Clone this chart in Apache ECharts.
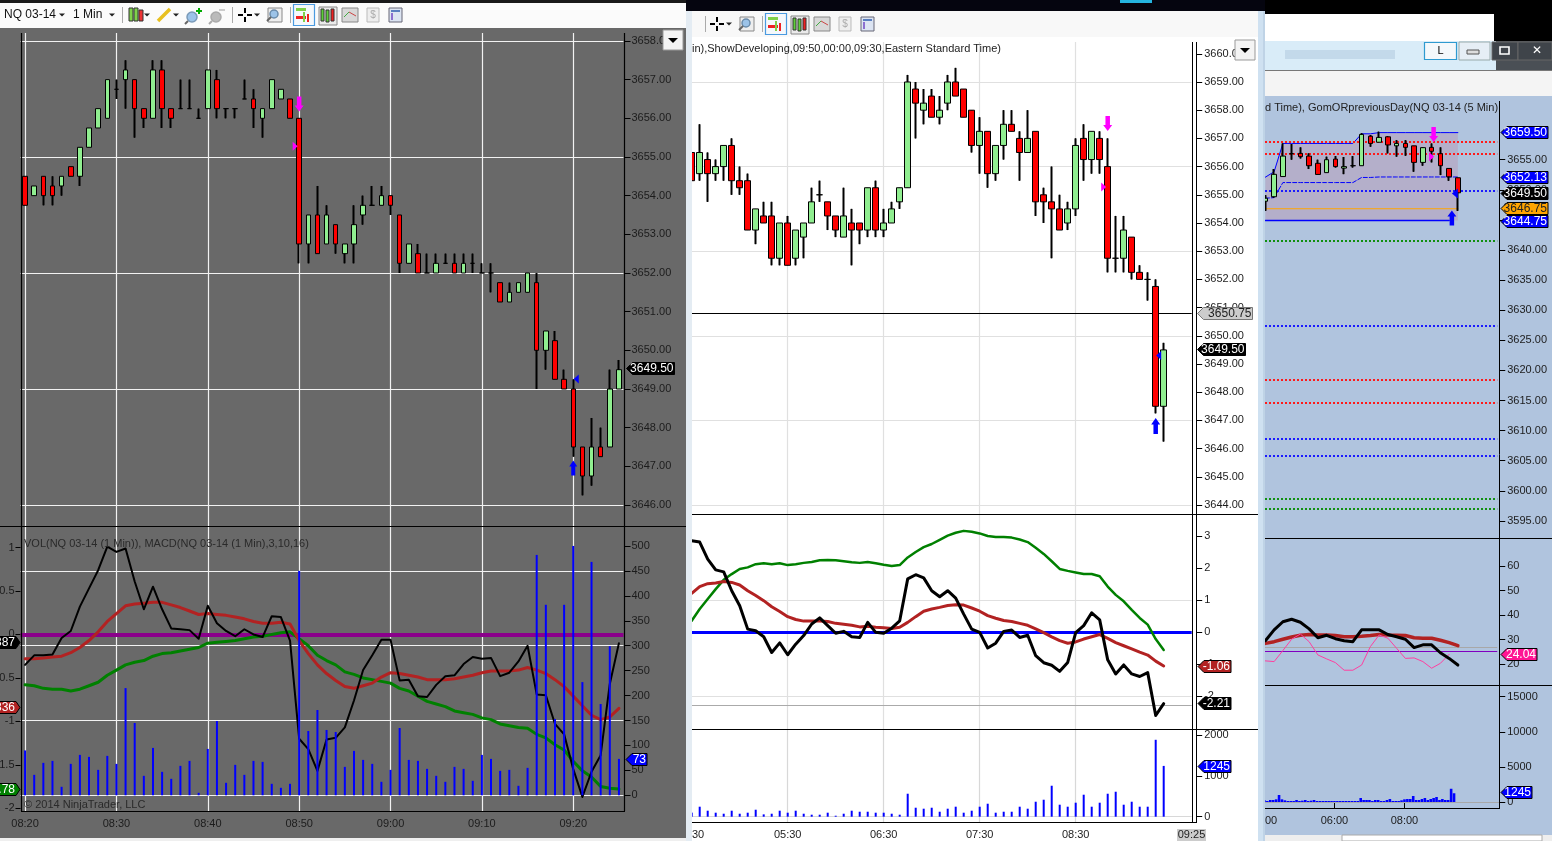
<!DOCTYPE html>
<html><head><meta charset="utf-8">
<style>html,body{margin:0;padding:0;background:#fff;overflow:hidden}#c{width:1552px;height:841px}</style>
<script src="https://cdn.jsdelivr.net/npm/echarts@6/dist/echarts.min.js"></script>
</head><body><div id="c"></div>
<script>
// ---------- left pane, 1 minute ----------
const p1Times = ['08:20','08:21','08:22','08:23','08:24','08:25','08:26','08:27','08:28','08:29','08:30','08:31','08:32','08:33','08:34','08:35','08:36','08:37','08:38','08:39','08:40','08:41','08:42','08:43','08:44','08:45','08:46','08:47','08:48','08:49','08:50','08:51','08:52','08:53','08:54','08:55','08:56','08:57','08:58','08:59','09:00','09:01','09:02','09:03','09:04','09:05','09:06','09:07','09:08','09:09','09:10','09:11','09:12','09:13','09:14','09:15','09:16','09:17','09:18','09:19','09:20','09:21','09:22','09:23','09:24','09:25'];
const p1Open = [3654.5,3654,3654.5,3654.25,3654.25,3654.75,3654.5,3655.25,3655.75,3656,
3656.75,3657,3657,3656.25,3656,3657.25,3656.25,3656.25,3656.25,3656,
3656.25,3657,3656.25,3656.25,3656.5,3656.5,3656,3656.25,3656.5,3656.5,
3656,3652.75,3653.5,3652.75,3653.25,3652.5,3652.75,3653.5,3653.75,3653.75,
3654,3653.5,3652.25,3652.5,3652,3652,3652.25,3652.25,3652,3652.25,
3652,3652,3651.75,3651.25,3651.5,3651.5,3651.75,3650,3650.25,3649.25,
3649,3647.5,3646.75,3647.5,3647.5,3649];
const p1Close = [3653.75,3654.25,3654,3654,3654.5,3654.5,3655.25,3655.75,3656.25,3657,
3656.75,3657.25,3656.25,3656,3657.25,3656.25,3656,3656.25,3656.25,3656,
3657.25,3656.25,3656.25,3656.25,3656.5,3656.25,3656.25,3657,3656.75,3656,
3652.75,3653.5,3652.5,3653.5,3652.75,3652.75,3653.25,3653.75,3653.75,3654,
3653.75,3652.25,3652.75,3652,3652,3652.25,3652.25,3652,3652.25,3652.25,
3652,3652,3651.25,3651.5,3651.75,3652,3650,3650.5,3649.25,3649,
3647.5,3646.75,3647.5,3647.25,3649,3649.5];
const p1Low = [3653.75,3654,3653.75,3653.75,3654,3654.5,3654.25,3655.25,3655.75,3656,
3656.5,3656.25,3655.5,3655.75,3656,3655.75,3655.75,3656.25,3656.25,3656,
3656.25,3656,3656,3656,3656.5,3655.75,3655.5,3656.25,3656.5,3656,
3652.25,3652.25,3652.5,3652.75,3652.5,3652.25,3652.25,3653.25,3653.75,3653.75,
3653.5,3652,3652.25,3652,3652,3652,3652.25,3652,3652,3652,
3652,3651.5,3651.25,3651.25,3651.5,3651.5,3649,3649.5,3649.25,3649,
3647.25,3646.25,3646.5,3647.25,3647.5,3649];
const p1High = [3654.5,3654.25,3654.5,3654.5,3654.5,3654.75,3655.25,3655.75,3656.25,3657,
3657,3657.5,3657,3656.25,3657.5,3657.5,3656.25,3657,3657,3656.25,
3657.25,3657.25,3656.25,3656.25,3657,3656.75,3656.25,3657,3656.75,3656.5,
3656,3653.5,3654.25,3653.75,3653.25,3652.75,3653.75,3654,3654.25,3654.25,
3654,3653.5,3652.75,3652.75,3652.5,3652.5,3652.5,3652.5,3652.5,3652.5,
3652.25,3652.25,3651.75,3651.75,3651.75,3652,3652,3650.5,3650.5,3649.5,
3649.25,3647.5,3648.25,3648,3649.5,3649.75];
const p1Macd = [-.35,-.24,-.24,-.23,-.04,.04,.32,.53,.74,1.01,.95,.99,.61,.29,.55,.29,.07,.06,.05,-.05,.33,.13,.04,-.02,.06,0,-.03,.21,.2,-.07,-1.2,-1.32,-1.57,-1.21,-1.19,-1.07,-.76,-.41,-.24,-.06,-.06,-.53,-.52,-.71,-.72,-.58,-.48,-.47,-.34,-.26,-.28,-.27,-.48,-.44,-.31,-.13,-.69,-.7,-1.03,-1.15,-1.55,-1.87,-1.58,-1.39,-.57,-.1];
const p1Avg = [-.28,-.28,-.27,-.26,-.25,-.21,-.15,-.07,.03,.15,.24,.33,.35,.36,.37,.37,.34,.31,.27,.23,.24,.23,.22,.2,.18,.15,.13,.13,.14,.12,-.07,-.22,-.35,-.45,-.53,-.6,-.62,-.59,-.56,-.49,-.44,-.45,-.47,-.49,-.52,-.52,-.52,-.51,-.49,-.47,-.44,-.42,-.42,-.42,-.41,-.38,-.41,-.45,-.52,-.6,-.71,-.82,-.93,-.98,-.95,-.85];
const p1Diff = [-.58,-.59,-.62,-.63,-.63,-.65,-.63,-.59,-.55,-.47,-.41,-.35,-.32,-.3,-.25,-.22,-.21,-.19,-.17,-.15,-.1,-.09,-.08,-.07,-.05,-.03,-.02,0,.02,.03,-.05,-.13,-.24,-.3,-.35,-.43,-.46,-.5,-.52,-.54,-.56,-.62,-.65,-.71,-.77,-.8,-.83,-.88,-.9,-.92,-.96,-.98,-1.03,-1.05,-1.07,-1.08,-1.15,-1.19,-1.27,-1.33,-1.46,-1.57,-1.64,-1.75,-1.77,-1.78];
const p1Vol = [90,41,65,69,17,63,81,77,51,79,63,215,145,39,95,47,33,59,69,5,93,149,25,61,41,69,67,23,15,23,450,129,171,131,127,57,89,71,63,27,51,135,71,69,53,39,27,57,53,29,81,73,49,51,19,55,482,382,153,382,500,227,468,183,299,73];
const p1PriceTicks = [3646,3647,3648,3649,3650,3651,3652,3653,3654,3655,3656,3657,3658];
const p1PriceGrid = [3646,3649,3652,3655,3658];
const p1MacdTicks = [-2,-1.5,-1,-0.5,0,0.5,1];
const p1VolTicks = [0,50,100,150,200,250,300,350,400,450,500];
const p1VolGrid = [0,150,300,450];
const p1TimeGrid = ['08:20','08:30','08:40','08:50','09:00','09:10','09:20'];

// ---------- middle pane, 5 minute ----------
const p2Times = ['04:30','04:35','04:40','04:45','04:50','04:55','05:00','05:05','05:10','05:15','05:20','05:25','05:30','05:35','05:40','05:45','05:50','05:55','06:00','06:05','06:10','06:15','06:20','06:25','06:30','06:35','06:40','06:45','06:50','06:55','07:00','07:05','07:10','07:15','07:20','07:25','07:30','07:35','07:40','07:45','07:50','07:55','08:00','08:05','08:10','08:15','08:20','08:25','08:30','08:35','08:40','08:45','08:50','08:55','09:00','09:05','09:10','09:15','09:20','09:25','09:30','09:35','09:40'];
const p2Open = [3656.5,3655.75,3656.25,3655.75,3656,3656.75,3655.5,3655.5,3653.75,3654.25,
3654.25,3652.75,3654,3652.75,3653.5,3654,3655,3654.75,3654.25,3653.5,
3654,3654,3653.75,3655.25,3653.75,3654,3654.75,3655.25,3658.75,3658,
3658.5,3657.75,3658.25,3659,3658.75,3658,3656.75,3657.25,3655.75,3656.75,
3657.5,3657,3656.5,3657.25,3655,3654.75,3654.5,3654,3654.5,3657,
3656.25,3657,3656,3652.75,3652.75,3653.5,3652.25,3652,3651.75,3647.5];
const p2Close = [3655.5,3656.5,3655.75,3656,3656.75,3655.5,3655.25,3653.75,3654.5,3654,
3652.75,3654,3652.5,3653.75,3654,3654.75,3655,3654.25,3653.75,3654.25,
3653.75,3653.75,3655.25,3653.75,3654,3654.5,3655.25,3659,3658.25,3658.25,
3657.75,3658,3659,3658.5,3657.75,3656.75,3657.25,3655.75,3656.75,3657.5,
3657.25,3656.5,3657,3654.75,3654.75,3654.5,3653.75,3654.5,3656.75,3656.25,
3657.25,3656.25,3652.75,3652.75,3653.75,3652.25,3652,3652,3647.5,3649.5];
const p2Low = [3655.5,3655.5,3654.75,3655.5,3655.5,3655,3655,3653.75,3653.25,3654,
3652.5,3652.5,3652.5,3652.5,3652.75,3654,3654.75,3653.75,3653.5,3653.5,
3652.5,3653.25,3653.5,3653.5,3653.5,3654,3654.5,3655.25,3657,3657.5,
3657.75,3657.5,3658,3658.5,3657.75,3656.5,3655.75,3655.25,3655.5,3656.25,
3657.25,3655.5,3656.5,3654.25,3654,3652.75,3653.75,3653.75,3654.25,3655.5,
3655.75,3655.75,3652.25,3652.25,3652.25,3652,3652,3651.25,3647.25,3646.25];
const p2High = [3656.5,3657.5,3656.5,3656.25,3656.75,3657,3656,3655.75,3654.5,3654.75,
3654.75,3654,3654.25,3653.75,3654,3655.25,3655.5,3654.75,3654.25,3655.25,
3654.5,3654,3655.25,3655.5,3654.5,3654.75,3655.25,3659.25,3659,3658.75,
3658.75,3658.5,3659.25,3659.5,3658.75,3658,3657.75,3657.25,3656.75,3658,
3658,3657.25,3658,3657.25,3655.25,3656,3655,3654.75,3657,3657.5,
3657.25,3657.25,3657,3654.25,3654.25,3653.5,3652.5,3652.25,3652,3649.75];
const p2Macd = [2.85,2.81,2.28,1.94,1.88,1.29,.82,.09,.04,-.15,-.64,-.34,-.71,-.38,-.11,.25,.44,.2,-.04,.02,-.15,-.17,.3,-.01,-.04,.12,.35,1.66,1.79,1.69,1.29,1.1,1.29,1.06,.56,.09,-.01,-.5,-.35,.02,.06,-.17,-.1,-.74,-.96,-1.04,-1.23,-.95,-.02,.2,.6,.38,-.87,-1.31,-1.03,-1.31,-1.39,-1.27,-2.61,-2.24];
const p2Avg = [1.21,1.42,1.51,1.53,1.58,1.55,1.47,1.29,1.14,.98,.79,.64,.48,.39,.34,.34,.34,.33,.27,.24,.21,.16,.18,.15,.13,.11,.15,.3,.48,.65,.72,.77,.83,.85,.84,.75,.65,.51,.43,.36,.33,.27,.21,.1,-.02,-.15,-.27,-.35,-.31,-.22,-.15,-.08,-.2,-.33,-.43,-.53,-.63,-.72,-.91,-1.06];
const p2Diff = [.35,.72,1.03,1.34,1.63,1.81,1.97,2.02,2.12,2.15,2.12,2.15,2.09,2.12,2.16,2.19,2.24,2.25,2.24,2.21,2.18,2.16,2.19,2.15,2.1,2.06,2.09,2.33,2.5,2.65,2.75,2.88,3.01,3.1,3.16,3.13,3.08,3,2.97,2.97,2.95,2.89,2.81,2.63,2.44,2.21,1.97,1.91,1.86,1.81,1.81,1.74,1.42,1.16,.96,.69,.44,.23,-.22,-.56];
const p2Vol = [100,245,147,98,73,147,73,98,171,57,73,147,98,147,73,49,49,98,24,73,147,122,122,98,98,73,49,563,220,196,220,122,196,245,98,147,245,318,98,122,122,245,196,367,416,759,294,245,343,539,245,343,563,612,294,367,245,245,1885,1245];
const p2PriceTicks = [3644,3645,3646,3647,3648,3649,3650,3651,3652,3653,3654,3655,3656,3657,3658,3659,3660];
const p2PriceGrid = [3644,3647,3650,3653,3656,3659];
const p2MacdTicks = [-2,-1,0,1,2,3];
const p2MacdGrid = [-2,1];
const p2VolTicks = [0,1000,2000];
const p2TimeGrid = ['05:30','06:30','07:30','08:30'];
const p2TimeLabels = ['05:30','06:30','07:30','08:30'];

// ---------- right pane ----------
const p3Times = ['04:00','04:15','04:30','04:45','05:00','05:15','05:30','05:45','06:00','06:15','06:30','06:45','07:00','07:15','07:30','07:45','08:00','08:15','08:30','08:45','09:00','09:15','09:30','09:45','10:00','10:15','10:30'];
const p3Open  = [3648.1,3648.85,3652.2,3656,3656.05,3655.6,3654.4,3652.85,3655.1,3653.6,3654,3654,3658.9,3657.9,3658.8,3657.3,3657.7,3657.3,3654.55,3657.05,3656,3653.55,3652];
const p3Close = [3648.6,3652.57,3655.6,3656,3655.5,3654,3652.55,3655,3653.85,3653.85,3654,3659.2,3657.7,3658.7,3657.45,3657.7,3657.05,3654.55,3657,3656.4,3654,3652.15,3649.5];
const p3Low   = [3646.5,3648.7,3652.2,3655,3655.2,3653.45,3652.55,3652.85,3653.7,3652.6,3653.7,3654,3657.15,3657.9,3656.05,3655.5,3655.65,3653,3654,3654.55,3652.45,3651.5,3646.5];
const p3High  = [3649.1,3653.45,3657.7,3657.6,3657.05,3656.05,3655,3655.5,3655.6,3655.45,3655.6,3659.4,3659.1,3659.65,3658.9,3658.25,3658.25,3657.3,3657.05,3657.7,3657.05,3653.55,3652];
const p3RangeHigh = [3652.1,3653,3657.7,3657.7,3657.7,3657.7,3657.7,3657.7,3657.7,3657.7,3657.7,3659.3,3659.3,3659.5,3659.5,3659.5,3659.5,3659.5,3659.5,3659.5,3659.5,3659.5,3659.5];
const p3RangeMid = [3648.6,3648.7,3651.2,3651.2,3651.2,3651.2,3651.2,3651.2,3651.2,3651.2,3651.2,3652.05,3652.05,3652.13,3652.13,3652.13,3652.13,3652.13,3652.13,3652.13,3652.13,3652.13,3652.13];
const p3RangeLow = [3644.9,3644.9,3644.9,3644.9,3644.9,3644.9,3644.9,3644.9,3644.9,3644.9,3644.9,3644.9,3644.9,3644.9,3644.9,3644.9,3644.9,3644.9,3644.9,3644.9,3644.9,3644.9];
const p3Settle = [3646.85,3646.85,3646.85,3646.85,3646.85,3646.85,3646.85,3646.85,3646.85,3646.85,3646.85,3646.85,3646.85,3646.85,3646.85,3646.85,3646.85,3646.85,3646.85,3646.85,3646.85,3646.85,3646.85];
const p3RedLevels = [3657.9,3656,3618.4,3614.7];
const p3BlueLevels = [3649.8,3627.4,3608.6,3605.8];
const p3GreenLevels = [3641.6,3598.6,3597];
const p3Rsi = [29.6,34,37.3,38.3,37.1,34.4,30.8,31.8,30.4,29.6,29.2,34,34,34,32.1,31.2,30.2,26.8,27.9,27.9,24.7,22.4,19.7];
const p3RsiAvg = [28.5,29.2,30.2,31.1,31.8,32.1,31.9,31.9,31.7,31.2,31.2,31.4,31.7,32.1,31.9,31.8,31.7,30.8,30.6,30.6,29.8,28.8,27.6];
const p3Stoch = [21.4,21.1,25.6,30.2,32.3,29.2,23.8,22.2,20.7,17.6,17.6,19.7,27.2,31.9,30.6,26.5,22.4,22.6,21.1,18.4,20.4,24.04];
const p3VolTimes = ['04:00','04:05','04:10','04:15','04:20','04:25','04:30','04:35','04:40','04:45','04:50','04:55','05:00','05:05','05:10','05:15','05:20','05:25','05:30','05:35','05:40','05:45','05:50','05:55','06:00','06:05','06:10','06:15','06:20','06:25','06:30','06:35','06:40','06:45','06:50','06:55','07:00','07:05','07:10','07:15','07:20','07:25','07:30','07:35','07:40','07:45','07:50','07:55','08:00','08:05','08:10','08:15','08:20','08:25','08:30','08:35','08:40','08:45','08:50','08:55','09:00','09:05','09:10','09:15','09:20','09:25','09:30','09:35','09:40','09:45','09:50','09:55','10:00','10:05','10:10','10:15','10:20','10:25','10:30','10:35','10:40'];
const p3Vol = [238,143,286,286,381,1000,381,238,143,143,143,286,143,190,286,143,190,286,143,143,143,143,143,143,143,143,143,143,143,143,143,143,143,571,286,286,286,143,286,286,143,143,286,429,143,143,143,238,381,429,429,857,286,286,429,571,286,429,571,714,286,429,286,286,1885,1245];
const p3PriceTicks = [3595,3600,3605,3610,3615,3620,3625,3630,3635,3640,3645,3650,3655];
const p3RsiTicks = [20,30,40,50,60];
const p3VolTicks = [0,5000,10000,15000];
const p3TimeLabels = ['06:00','08:00'];
const p3TimeTicks = ['04:00','06:00','08:00'];

// ---------- markers and price tags ----------
const FONT = '"Liberation Sans", Arial, sans-serif';
const ARROW_DOWN = 'path://M2.5,0 L7.5,0 L7.5,9 L10,9 L5,15 L0,9 L2.5,9 Z';
const ARROW_UP = 'path://M5,0 L10,6 L7.5,6 L7.5,15 L2.5,15 L2.5,6 L0,6 Z';
const TRI_RIGHT = 'path://M0,0 L6,5 L0,10 Z';
const TRI_LEFT = 'path://M6,0 L0,5 L6,10 Z';

const markers = [
 {x:0,y:0,t:'08:50',v:3656.37,s:ARROW_DOWN,c:'#FF00FF',size:[9,15],off:[0,0]},
 {x:0,y:0,t:'08:50',v:3655.28,s:TRI_RIGHT,c:'#FF00FF',size:[5,9],off:[-4,0]},
 {x:0,y:0,t:'09:20',v:3649.26,s:TRI_LEFT,c:'#0000FF',size:[5,9],off:[3,0]},
 {x:0,y:0,t:'09:20',v:3646.96,s:ARROW_UP,c:'#0000FF',size:[8,15],off:[0,0]},
 {x:2,y:3,t:'08:50',v:3657.53,s:ARROW_DOWN,c:'#FF00FF',size:[9,15],off:[0,0]},
 {x:2,y:3,t:'08:50',v:3655.28,s:TRI_RIGHT,c:'#FF00FF',size:[5,9],off:[-4,0]},
 {x:2,y:3,t:'09:20',v:3649.3,s:TRI_LEFT,c:'#0000FF',size:[5,9],off:[3,0]},
 {x:2,y:3,t:'09:20',v:3646.8,s:ARROW_UP,c:'#0000FF',size:[9,16],off:[0,0]},
 {x:5,y:6,t:'08:45',v:3659.2,s:ARROW_DOWN,c:'#FF00FF',size:[9,15],off:[2,0]},
 {x:5,y:6,t:'08:45',v:3655.5,s:TRI_RIGHT,c:'#FF00FF',size:[5,9],off:[0,0]},
 {x:5,y:6,t:'09:30',v:3649.4,s:TRI_LEFT,c:'#0000FF',size:[6,10],off:[-3,0]},
 {x:5,y:6,t:'09:30',v:3645.3,s:ARROW_UP,c:'#0000FF',size:[9,15],off:[-6,0]},
];
const tagList = [
 {x:0,y:0,v:3649.5,text:'3649.50',px:626.5,w:48,fill:'#000',color:'#fff',dir:'L',dy:-2},
 {x:1,y:2,v:73,text:'73',px:626,w:21,fill:'#0000FF',color:'#fff',dir:'L',dy:0},
 {x:1,y:1,v:-0.09,text:'-0.387',px:20,w:60,fill:'#000',color:'#fff',dir:'R',dy:0},
 {x:1,y:1,v:-0.836,text:'-0.836',px:20,w:60,fill:'#B22222',color:'#fff',dir:'R',dy:0},
 {x:1,y:1,v:-1.78,text:'-1.78',px:20,w:60,fill:'#008000',color:'#fff',dir:'R',dy:0},
 {x:2,y:3,v:3650.8,text:'3650.75',px:1197.5,w:55,fill:'#CCCCCC',color:'#222',dir:'L',stroke:'#777',dy:0},
 {x:2,y:3,v:3649.5,text:'3649.50',px:1197.5,w:48,fill:'#000',color:'#fff',dir:'L',dy:-1},
 {x:3,y:4,v:-1.06,text:'-1.06',px:1198,w:33,fill:'#B22222',color:'#fff',dir:'L',dy:0},
 {x:3,y:4,v:-2.21,text:'-2.21',px:1198,w:33,fill:'#000',color:'#fff',dir:'L',dy:0},
 {x:4,y:5,v:1245,text:'1245',px:1198,w:33,fill:'#0000FF',color:'#fff',dir:'L',dy:0},
 {x:5,y:6,v:3659.5,text:'3659.50',px:1501,w:47,fill:'#0000FF',color:'#fff',dir:'L',dy:-1},
 {x:5,y:6,v:3652.13,text:'3652.13',px:1501,w:47,fill:'#0000FF',color:'#fff',dir:'L',dy:0},
 {x:5,y:6,v:3649.5,text:'3649.50',px:1501,w:47,fill:'#000',color:'#fff',dir:'L',dy:0},
 {x:5,y:6,v:3646.75,text:'3646.75',px:1501,w:47,fill:'#FFA500',color:'#222',dir:'L',dy:-1},
 {x:5,y:6,v:3644.75,text:'3644.75',px:1501,w:47,fill:'#0000FF',color:'#fff',dir:'L',dy:0},
 {x:6,y:7,v:24.04,text:'24.04',px:1501,w:36,fill:'#FF1493',color:'#fff',dir:'L',dy:0},
 {x:7,y:8,v:1245,text:'1245',px:1501,w:31,fill:'#0000FF',color:'#fff',dir:'L',dy:-1},
];

// ---------- chart layout ----------
const grids = [
 {left:20.5,top:33,width:603,height:493},
 {left:20.5,top:527,width:603,height:284},
 {left:687.7,top:42,width:504,height:472},
 {left:687.7,top:515,width:504,height:214},
 {left:687.7,top:730,width:504,height:92},
 {left:1261,top:101,width:236.25,height:437},
 {left:1261,top:539,width:236.25,height:146},
 {left:1263,top:686,width:236.25,height:122},
].map(r=>Object.assign(r,{containLabel:false,outerBoundsMode:'none'}));
const LBL = '#1c1c1c';
function xAx(gi,data,labelFn,tick,tickFn){
 const a={type:'category',gridIndex:gi,data,boundaryGap:true,axisLine:{show:false},splitLine:{show:false},
  axisTick:{show:false},axisLabel:{show:false}};
 if(labelFn){a.axisLabel={show:true,interval:labelFn,margin:7,fontFamily:FONT,fontSize:11,color:LBL,hideOverlap:false};
  if(tick)a.axisTick={show:true,alignWithLabel:true,interval:tickFn||labelFn,length:tick,lineStyle:{color:'#000'}};}
 return a;
}
function yAx(gi,pos,min,max,ticks,fmt,offset,tlen,margin){
 return {type:'value',gridIndex:gi,position:pos,min,max,scale:true,offset:offset||0,splitLine:{show:false},axisLine:{show:false},
  axisTick:{show:true,length:tlen||6,customValues:ticks,lineStyle:{color:'#000'}},
  axisLabel:{show:true,customValues:ticks,formatter:fmt,margin:margin||8,padding:[2,0,0,0],fontFamily:FONT,fontSize:11,color:LBL,hideOverlap:false,showMinLabel:true,showMaxLabel:true}};
}
const f2=v=>(+v).toFixed(2), fs=v=>String(v);
const xAxis=[
 xAx(0,p1Times),
 xAx(1,p1Times,i=>i%10===0),
 xAx(2,p2Times),
 xAx(3,p2Times),
 xAx(4,p2Times,(i,v)=>p2TimeLabels.indexOf(v)>=0,4),
 xAx(5,p3Times),
 xAx(6,p3Times),
 xAx(7,p3VolTimes,(i,v)=>p3TimeLabels.indexOf(v)>=0,7,(i,v)=>p3TimeTicks.indexOf(v)>=0),
];
const yAxis=[
 yAx(0,'right',3645.457,3658.206,p1PriceTicks,f2,1,6,7),
 yAx(1,'left',-2.032,1.237,p1MacdTicks,fs,0,5,6),
 yAx(1,'right',-31.5,538,p1VolTicks,fs,1,6,7),
 yAx(2,'right',3643.681,3660.418,p2PriceTicks,f2,4.5),
 yAx(3,'right',-3.031,3.656,p2MacdTicks,fs,4.5),
 yAx(4,'right',-130,2125,p2VolTicks,fs,4.5),
 yAx(5,'right',3592.16,3664.75,p3PriceTicks,f2,2),
 yAx(6,'right',11.59,70.93,p3RsiTicks,fs,2),
 yAx(7,'right',-855,16524,p3VolTicks,fs,0),
];

function candle(x,y,o,c,l,h,width,z){return {type:'candlestick',xAxisIndex:x,yAxisIndex:y,z:z||4,barWidth:width,
 itemStyle:{color:'#90EE90',color0:'#FF0000',borderColor:'#000',borderColor0:'#000',borderColorDoji:'#000',borderWidth:1},
 data:o.map((v,i)=>[v,c[i],l[i],h[i]])};}
function wicks(x,y,o,c,l,h){return {type:'candlestick',xAxisIndex:x,yAxisIndex:y,z:3,barWidth:1,
 itemStyle:{color:'#000',color0:'#000',borderColor:'#000',borderColor0:'#000',borderColorDoji:'#000',borderWidth:2},
 data:o.map((v,i)=>[v,c[i],l[i],h[i]])};}
function ln(x,y,data,color,width,z,type){return {type:'line',xAxisIndex:x,yAxisIndex:y,data,symbol:'none',smooth:false,z:z||5,
 lineStyle:{color,width,type:type||'solid',cap:'round',join:'round'}};}
function vol(x,y,data,width,z){return {type:'bar',xAxisIndex:x,yAxisIndex:y,data,barWidth:width,z:z||6,itemStyle:{color:'#0000FF'}};}
function rules(x,y,yLines,xLines,color,width,extra,z){
 const d=[];
 (yLines||[]).forEach(v=>d.push({yAxis:v,lineStyle:{color,width,type:'solid'}}));
 (xLines||[]).forEach(v=>d.push({xAxis:v,lineStyle:{color,width,type:'solid'}}));
 (extra||[]).forEach(e=>d.push(e));
 return {type:'line',xAxisIndex:x,yAxisIndex:y,data:[],symbol:'none',z:1,
  markLine:{silent:true,symbol:'none',label:{show:false},animation:false,z:z||1,precision:4,data:d}};
}

const series=[
 rules(0,0,p1PriceGrid,p1TimeGrid,'#F2F2F2',1.2),
 rules(1,2,p1VolGrid,p1TimeGrid,'#F2F2F2',1.2),
 rules(1,1,[],[],'#8B008B',4,[{yAxis:0,lineStyle:{color:'#8B008B',width:4,type:'solid'}}],2),
 wicks(0,0,p1Open,p1Close,p1Low,p1High),
 candle(0,0,p1Open,p1Close,p1Low,p1High,5),
 vol(1,2,p1Vol,2,6),
 ln(1,1,p1Diff,'#008000',3,4),
 ln(1,1,p1Avg,'#B22222',3,4),
 ln(1,1,p1Macd,'#000',2,5),

 rules(2,3,p2PriceGrid,p2TimeGrid,'#E0E0E0',1.2,[{yAxis:3650.81,lineStyle:{color:'#000',width:1,type:'solid'}}]),
 rules(3,4,p2MacdGrid,p2TimeGrid,'#E0E0E0',1.2,[{yAxis:-2.28,lineStyle:{color:'#AAAAAA',width:1,type:'solid'}},{yAxis:0,lineStyle:{color:'#0000FF',width:3,type:'solid'}}]),
 rules(4,5,[0],p2TimeGrid,'#D8D8D8',1.2),
 wicks(2,3,p2Open,p2Close,p2Low,p2High),
 candle(2,3,p2Open,p2Close,p2Low,p2High,7),
 ln(3,4,p2Diff,'#008000',2.5,4),
 ln(3,4,p2Avg,'#B22222',3,4),
 ln(3,4,p2Macd,'#000',3,5),
 vol(4,5,p2Vol,2,6),

 Object.assign(ln(5,6,p3RangeHigh,'#0000FF',1,2),{areaStyle:{color:'#B4AFCA',opacity:1,origin:3644.9}}),
 ln(5,6,p3RangeMid,'#0000FF',1,3,'dashed'),
 ln(5,6,p3RangeLow,'#0000FF',1.5,3),
 ln(5,6,p3Settle,'#FFA500',1.2,3),
 rules(5,6,[],[],'#000',1,[
   ...p3RedLevels.map(v=>({yAxis:v,lineStyle:{color:'#FF1A1A',width:2,type:[2,2]}})),
   ...p3BlueLevels.map(v=>({yAxis:v,lineStyle:{color:'#1A1AFF',width:2,type:[2,2]}})),
   ...p3GreenLevels.map(v=>({yAxis:v,lineStyle:{color:'#109010',width:2,type:[2,2]}})),
 ],3),
 wicks(5,6,p3Open,p3Close,p3Low,p3High),
 candle(5,6,p3Open,p3Close,p3Low,p3High,5),
 rules(6,7,[],[],'#000',1,[{yAxis:26.9,lineStyle:{color:'#A8A8A8',width:1,type:'solid'}},{yAxis:25.3,lineStyle:{color:'#8000C0',width:1,type:'solid'}}]),
 ln(6,7,p3RsiAvg,'#B22222',3.5,4),
 ln(6,7,p3Stoch,'#FF3FA0',1,4),
 ln(6,7,p3Rsi,'#000',3,5),
 rules(7,8,[0],[],'#A8A8A8',1),
 vol(7,8,p3Vol,2.6,6),
];
markers.forEach(m=>{
 series.push({type:'scatter',xAxisIndex:m.x,yAxisIndex:m.y,z:9,symbol:m.s,symbolSize:m.size,symbolOffset:m.off,symbolKeepAspect:false,
  itemStyle:{color:m.c,opacity:1},data:[[m.t,m.v]]});
});
tagList.forEach(t=>{
 series.push({type:'custom',xAxisIndex:t.x,yAxisIndex:t.y,z:20,clip:false,silent:true,data:[[0,t.v]],
  renderItem:(p,api)=>{
   const y=Math.round(api.coord([0,api.value(1)])[1])+0.5+(t.dy||0), h=6, x=t.px, w=t.w;
   const pts=t.dir==='L'?[[x,y],[x+6,y-h],[x+w,y-h],[x+w,y+h],[x+6,y+h]]:[[x,y],[x-4,y-h],[x-w,y-h],[x-w,y+h],[x-4,y+h]];
   return {type:'group',children:[
    {type:'polygon',shape:{points:pts},style:{fill:t.fill,stroke:t.stroke||'#000',lineWidth:1}},
    {type:'text',style:{text:t.text,x:t.dir==='L'?x+w-1:x-5,y:y+0.5,fill:t.color,font:'12px '+FONT,align:'right',verticalAlign:'middle'}}
   ]};
  }});
});

// ---------- window frames and toolbars (screenshot chrome) ----------
const g=[];
const R=(x,y,w,h,fill,z,stroke,lw)=>g.push({type:'rect',silent:true,z:z,shape:{x,y,width:w,height:h},style:{fill,stroke:stroke||null,lineWidth:lw||1}});
const L=(x1,y1,x2,y2,c,w,z)=>g.push({type:'line',silent:true,z:z,shape:{x1,y1,x2,y2},style:{stroke:c,lineWidth:w||1}});
const T=(x,y,s,font,fill,z,align)=>g.push({type:'text',silent:true,z:z,style:{text:s,x,y,font,fill,align:align||'left',verticalAlign:'middle'}});
const P=(pts,fill,z)=>g.push({type:'polygon',silent:true,z:z,shape:{points:pts},style:{fill}});
const C=(cx,cy,r,fill,stroke,z)=>g.push({type:'circle',silent:true,z:z,shape:{cx,cy,r},style:{fill,stroke:stroke||null,lineWidth:1.5}});
const BG=-50, TOP=60;

R(0,0,686,3,'#1a1a1a',BG); R(0,3,686,25,'#FBFBFB',BG); R(0,28,686,810,'#696969',BG); R(0,838,686,3,'#EFEFEF',BG);
R(692,0,566,11,'#05050F',BG); R(692,11,566,26,'#F8F8F8',BG); R(692,37,566,804,'#FFFFFF',BG);
R(1265,0,287,14,'#000',BG); R(1265,14,229,27,'#FFFFFF',BG); R(1494,14,58,27,'#000',BG);
R(1265,41,287,29,'#D9ECF8',BG); R(1496,41,56,29,'#4A4F55',BG); R(1265,70,287,1,'#777',BG); R(1265,71,287,25,'#F4F4F4',BG);
R(1265,96,287,739,'#B0C4DE',BG); R(1265,835,287,6,'#EEEEEE',BG); R(1342,835,200,6,'#FFFFFF',BG,'#AAAAAA');
R(1120,0,32,3,'#25B5E0',BG);
R(1285,50,110,9,'#C3D9EA',BG);

R(686,0,6,841,'#E4ECF3',TOP); R(686,0,6,11,'#05050F',TOP);
R(1258,0,7,841,'#CFE1F1',TOP); R(1263,0,2,841,'#BFD3E6',TOP); R(1258,0,7,11,'#05050F',TOP);

L(0,526.5,686,526.5,'#000',1,TOP);
L(21.5,33,21.5,811,'#000',1.2,TOP); L(624.5,33,624.5,811,'#000',1.2,TOP); L(21,811.5,625,811.5,'#000',1,TOP);
L(692,514.5,1258,514.5,'#000',1,TOP); L(692,729.5,1258,729.5,'#000',1,TOP);
L(1192.5,42,1192.5,822,'#000',1,TOP); L(1196.5,42,1196.5,822,'#000',1,TOP); L(692,822.5,1197,822.5,'#000',1,TOP);
L(1265,538.5,1552,538.5,'#000',1,TOP); L(1265,685.5,1552,685.5,'#000',1,TOP);
L(1499.5,101,1499.5,808,'#000',1,TOP); L(1265,808.5,1500,808.5,'#000',1,TOP);

T(24,544,'VOL(NQ 03-14 (1 Min)), MACD(NQ 03-14 (1 Min),3,10,16)','11px '+FONT,'#2A2A2A',TOP);
T(24,805,'© 2014 NinjaTrader, LLC','11px '+FONT,'#2A2A2A',TOP);
T(692,49,'in),ShowDeveloping,09:50,00:00,09:30,Eastern Standard Time)','11px '+FONT,'#222',TOP);
T(1265,108,'d Time), GomORpreviousDay(NQ 03-14 (5 Min)','11px '+FONT,'#222',TOP);
T(692,835,'30','11px '+FONT,LBL,TOP);
T(1265,821,'00','11px '+FONT,LBL,TOP);
R(1177,829,29,12,'#CCCCCC',TOP); T(1191.5,835,'09:25','11px '+FONT,'#222',TOP,'center');

function dropBtn(x,y){R(x,y,20,20,'#F4F4F4',TOP,'#999');P([[x+5,y+8],[x+15,y+8],[x+10,y+13]],'#000',TOP);}
dropBtn(663,30); dropBtn(1235,40);

const tri=(x,y)=>P([[x-3,y-1.5],[x+3,y-1.5],[x,y+1.5]],'#222',TOP);
function candleIcon(x,y,frame){
 if(frame)R(x-2,y-2,18,18,'#EAEAEA',TOP,'#888');
 R(x,y,3,12,'#5FCF3A',TOP,'#333');R(x+5,y+1,3,12,'#5FCF3A',TOP,'#333');R(x+10,y,3,12,'#E22',TOP,'#333');
}
function toolIcons(dx,dy){
 L(245+dx,8+dy,245+dx,13+dy,'#000',2,TOP);L(245+dx,17+dy,245+dx,22+dy,'#000',2,TOP);L(238+dx,15+dy,243+dx,15+dy,'#000',2,TOP);L(247+dx,15+dy,252+dx,15+dy,'#000',2,TOP);
 tri(257+dx,15+dy);
 R(268+dx,8+dy,14,14,'#EEE',TOP,'#888');C(274+dx,14+dy,4,'#9CC3E8','#6A8BAA',TOP);L(271+dx,17+dy,267+dx,21+dy,'#666',2,TOP);
 L(290.5+dx,7+dy,290.5+dx,23+dy,'#AAA',1,TOP);
 R(293.5+dx,4.5+dy,21,21,'#F4F8FC',TOP,'#4A9AE0',1.2);
 R(296+dx,8+dy,10,3,'#7FD14A',TOP);R(296+dx,16+dy,10,3,'#E22',TOP);R(307+dx,14+dy,2,8,'#E22',TOP);R(303+dx,12+dy,2,10,'#7FD14A',TOP);
 candleIcon(321+dx,9+dy,true);
 R(342+dx,8+dy,16,14,'#D8D8D8',TOP,'#888');L(344+dx,17+dy,349+dx,12+dy,'#4A4',1,TOP);L(349+dx,12+dy,356+dx,16+dy,'#C44',1,TOP);
 R(367+dx,8+dy,12,14,'#EEE',TOP,'#BBB');T(373+dx,15.5+dy,'$','10px '+FONT,'#AAA',TOP,'center');
 R(389+dx,8+dy,13,14,'#DCE4F2',TOP,'#667');R(391+dx,10+dy,9,2,'#5A7FC0',TOP);R(391+dx,13+dy,2,7,'#8B6FD0',TOP);
}
T(4,15,'NQ 03-14','12px '+FONT,'#111',TOP); tri(62,15);
T(73,15,'1 Min','12px '+FONT,'#111',TOP); tri(112,15);
L(122.5,7,122.5,23,'#AAA',1,TOP);
R(129,8,4,13,'#7FD14A',TOP,'#333');R(134,8,4,13,'#7FD14A',TOP,'#333');R(139,10,4,11,'#E33',TOP,'#333');tri(147,15);
L(158,21,170,9,'#E8C020',3.5,TOP);tri(176,15);
C(192,17,5,'#9CC3E8','#7A9AB8',TOP);L(188,21,185,24,'#666',2,TOP);L(199,8,199,14,'#0A0',2,TOP);L(196,11,202,11,'#0A0',2,TOP);
C(216,17,5,'#BBBBBB','#AAAAAA',TOP);L(212,21,209,24,'#AAA',2,TOP);L(219,10,225,10,'#CCC',2,TOP);
L(232.5,7,232.5,23,'#AAA',1,TOP);
toolIcons(0,0); toolIcons(472,9);
L(705.5,16,705.5,32,'#AAA',1,TOP);

R(1424.5,42.5,32,17,'#F4F8FB',TOP,'#2E9AD0',1.2); T(1440.5,51,'L','11px '+FONT,'#000',TOP,'center');
R(1459,42,31,18,'#E6EEF5',TOP,'#9AA'); R(1467,50,12,4,'#DDD',TOP,'#555');
R(1492,42,26,18,'#3F444A',TOP,'#666'); R(1500,47,9,7,'#3F444A',TOP,'#FFF',1.6);
R(1518,42,34,18,'#3F444A',TOP,'#666'); T(1537,51,'✕','bold 12px "DejaVu Sans"','#FFF',TOP,'center');

const chart=echarts.init(document.getElementById('c'),null,{renderer:'canvas',width:1552,height:841});
chart.setOption({animation:false,backgroundColor:'#fff',textStyle:{fontFamily:FONT},
 tooltip:{show:false},legend:{show:false},grid:grids,xAxis,yAxis,series,graphic:{elements:g}});
</script></body></html>
